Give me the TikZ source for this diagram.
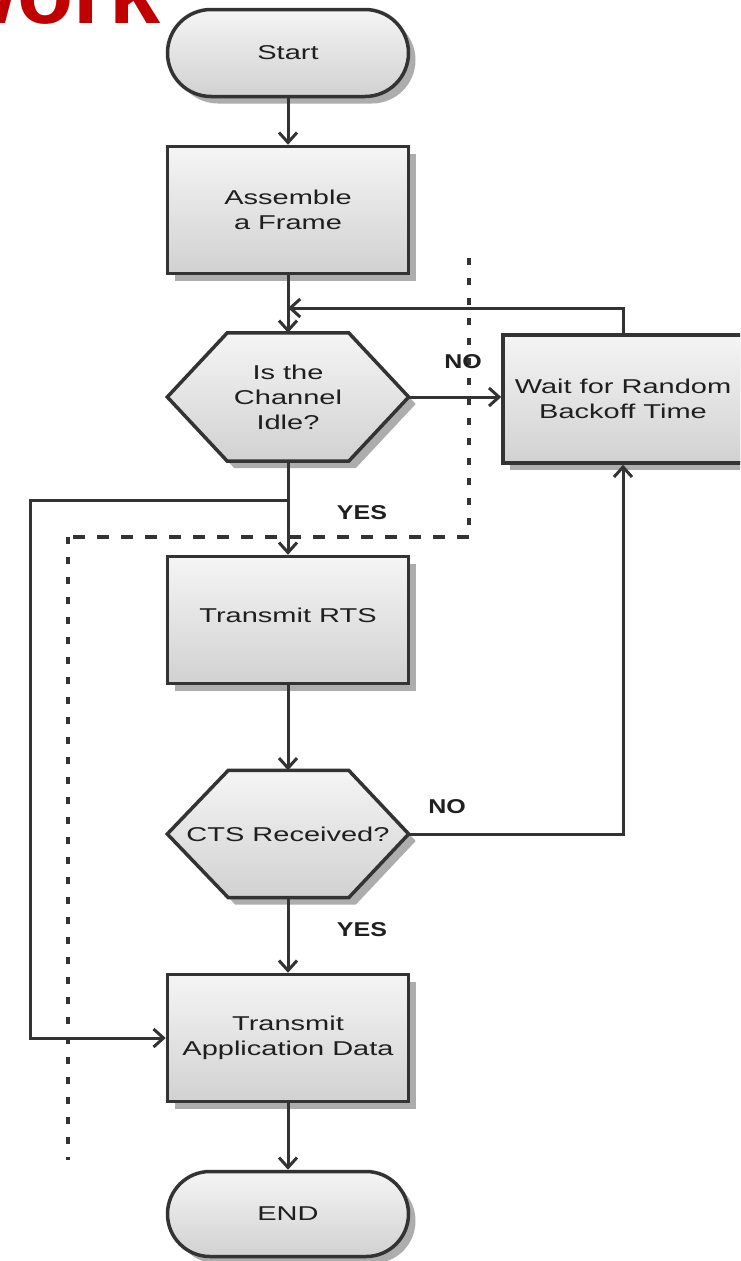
\documentclass[tikz,border=0pt]{standalone}
\usepackage{fontspec}
\setmainfont{Liberation Sans}[FakeStretch=1.45]
\newfontfamily\tagfont{Liberation Sans}[FakeStretch=1.25]
\newfontfamily\headfont{Liberation Sans}
\usetikzlibrary{arrows.meta,shapes.misc,shadows}

\definecolor{ink}{HTML}{333333}
\definecolor{headred}{HTML}{C00000}

\pgfdeclarelayer{paper}
\pgfdeclarelayer{behind}
\pgfsetlayers{paper,behind,main}

\tikzset{
  x=1pt, y=-1pt,
  flowline/.style={draw=ink, line width=3pt},
  arr/.style={flowline, -{Straight Barb[length=10pt,width=18pt]}},
  boxshade/.style={top color=gray!8, bottom color=gray!36, draw=ink, line width=3.5pt,
    drop shadow={shadow xshift=7pt, shadow yshift=-7pt, fill=black!32, opacity=1}},
  boxtext/.style={font=\fontsize{20}{25}\selectfont, text=black!88, align=center, inner sep=0pt},
  procbox/.style={rectangle, boxshade, boxtext, minimum width=241pt, minimum height=127pt},
  termbox/.style={rounded rectangle, boxshade, boxtext, minimum width=241pt, minimum height=87pt},
  hexholder/.style={rectangle, boxtext, minimum width=241pt, minimum height=128pt},
  hexfill/.style={boxshade, line join=miter},
  tag/.style={font=\tagfont\bfseries\fontsize{20}{24}\selectfont, text=black!88, inner sep=0pt},
  fencev/.style={draw=ink, line width=4.5pt, dash pattern=on 7pt off 13pt},
  fenceh/.style={draw=ink, line width=3.5pt, dash pattern=on 12pt off 12pt},
}

\begin{document}
\begin{tikzpicture}
  \useasboundingbox (0,0) rectangle (740,1261);
  \clip (0,0) rectangle (740,1261);
  \begin{pgfonlayer}{paper}
    \fill[white] (0,0) rectangle (740,1261);
  \end{pgfonlayer}

  % heading fragment
  \node[font=\headfont\bfseries\fontsize{92}{92}\selectfont, text=headred,
        anchor=base east, inner sep=0pt] (head) at (161,23) {work};

  % dotted boundary
  \draw[fencev] (469,258) -- (469,537);
  \draw[fenceh] (469,537) -- (68,537);
  \draw[fencev] (68,537) -- (68,1160);

  % flow nodes
  \node[termbox] (start) at (288,53) {Start};
  \node[procbox] (asm) at (288,210) {Assemble\\a Frame};
  \node[hexholder] (idle) at (288,397) {Is the\\Channel\\Idle?};
  \node[procbox, minimum width=240pt, minimum height=128pt] (wait) at (623,399) {Wait for Random\\Backoff Time};
  \node[procbox] (rts) at (288,620) {\raisebox{10pt}{Transmit RTS}};
  \node[hexholder, minimum height=127pt] (cts) at (288,834) {CTS Received?};
  \node[procbox] (tad) at (288,1038) {Transmit\\Application Data};
  \node[termbox, minimum height=85pt] (finish) at (288,1214) {END};

  % hexagon outlines behind their texts
  \begin{pgfonlayer}{behind}
    \path[hexfill] (idle.west) -- ([xshift=60pt]idle.north west) -- ([xshift=-60pt]idle.north east)
      -- (idle.east) -- ([xshift=-60pt]idle.south east) -- ([xshift=60pt]idle.south west) -- cycle;
    \path[hexfill] (cts.west) -- ([xshift=61pt]cts.north west) -- ([xshift=-60pt]cts.north east)
      -- (cts.east) -- ([xshift=-60pt]cts.south east) -- ([xshift=61pt]cts.south west) -- cycle;
  \end{pgfonlayer}

  % branch labels
  \node[tag] (noA) at (463,362) {NO};
  \node[tag] (yesA) at (362,513) {YES};
  \node[tag] (noB) at (447,807) {NO};
  \node[tag] (yesB) at (362,930) {YES};

  % connectors
  \coordinate (join) at (288,308);
  \coordinate (fork) at (288,500);
  \coordinate (lane) at (30,500);

  \draw[arr] (start.south) -- (asm.north);
  \draw[flowline] (asm.south) -- (join);
  \draw[arr] (join) -- (idle.north);
  \draw[arr] (wait.north) |- (join);
  \draw[arr] (idle.east) -- (idle.east -| wait.west);
  \draw[flowline] (idle.south) -- (fork);
  \draw[arr] (fork) -- (rts.north);
  \draw[arr] (fork) -- (lane) |- (tad.west);
  \draw[arr] (rts.south) -- (cts.north);
  \draw[arr] (cts.east) -| (wait.south);
  \draw[arr] (cts.south) -- (tad.north);
  \draw[arr] (tad.south) -- (finish.north);
\end{tikzpicture}
\end{document}
